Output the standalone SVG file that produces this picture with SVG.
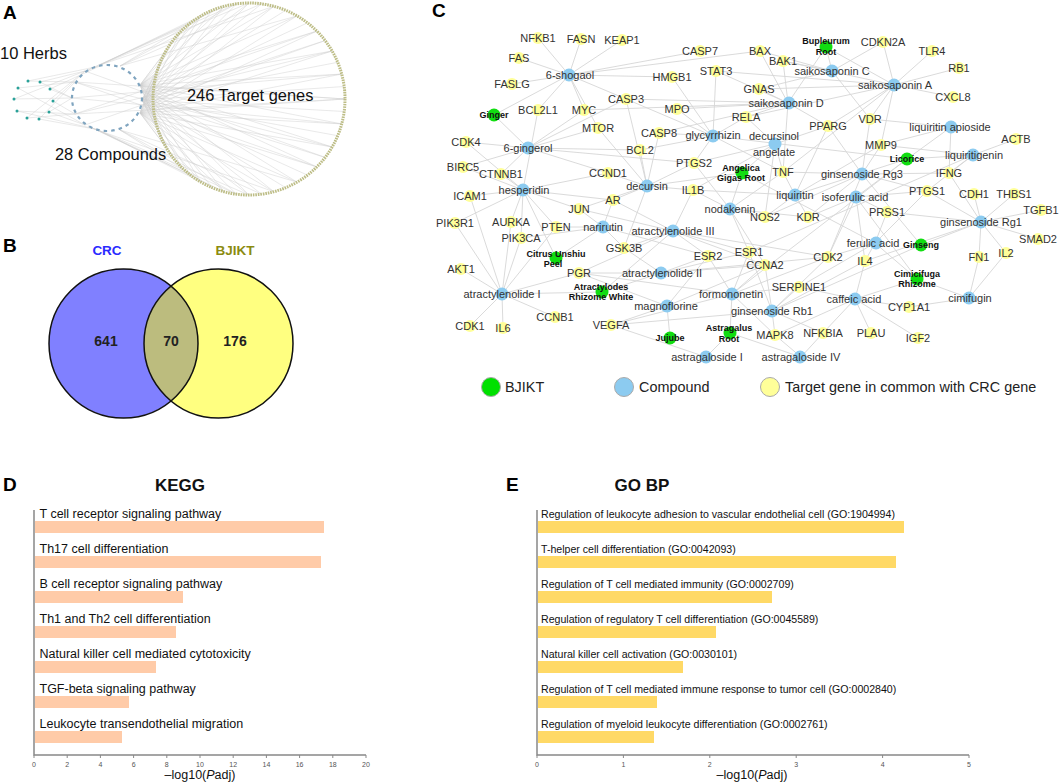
<svg xmlns="http://www.w3.org/2000/svg" width="1059" height="782" viewBox="0 0 1059 782">
<style>
text{font-family:"Liberation Sans",Arial,sans-serif;fill:#333}
.lbl{font-weight:bold;fill:#000;font-size:19px}
.net text{font-size:11px;text-anchor:middle}
.gene circle{fill:#ffff99}
.cmp circle{fill:#8ccbf0}
.herb circle{fill:#11dd11}
.herb text{font-size:9px;font-weight:bold;fill:#111}
.edges path{fill:none;stroke:#d6d6d6;stroke-width:0.9}
.aedge{fill:none;stroke:#cdcdcd;stroke-width:0.45}
.leg text{font-size:14.4px;fill:#222}
.leg circle{stroke:#aaa;stroke-width:1}
.barD{fill:#ffcba8}
.barE{fill:#ffd966}
.axis{stroke:#888;stroke-width:1.5;fill:none}
.tick{stroke:#888;stroke-width:1}
.tl{font-size:7px;fill:#555;text-anchor:middle}
.dl{font-size:12.5px;fill:#111}
.el{font-size:10.6px;fill:#111}
.ttl{font-size:17px;font-weight:bold;fill:#111;text-anchor:middle}
.xt{font-size:12.5px;fill:#111;text-anchor:middle}
.big{fill:#111}
.crc{fill:#2a2aff;font-size:13.5px;font-weight:bold;text-anchor:middle}
.bj{fill:#8b8b10;font-size:13.5px;font-weight:bold;text-anchor:middle}
.num{fill:#222;font-size:14px;font-weight:bold;text-anchor:middle}
</style>

<!-- Panel A -->
<g id="panelA">
<text class="lbl" x="3" y="19">A</text>
<g id="a-edges">
<path class="aedge" d="M140 85L345 99M140 85L341.7 123.9M140 85L332.1 147M140 85L316.9 166.9M140 85L297 182.1M140 85L273.9 191.7M140 85L249 195M140 85L224.1 191.7M140 85L201 182.1M140 85L181.1 166.9M140 85L165.9 147M140 85L156.3 123.9M140 85L153 99M140 85L156.3 74.1M140 85L165.9 51M140 85L181.1 31.1M140 85L201 15.9M140 85L224.1 6.3M140 85L249 3M140 85L273.9 6.3M140 85L297 15.9M140 85L316.9 31.1M140 85L332.1 51M140 85L341.7 74.1"/>
<path class="aedge" d="M142 100L344.2 111.5M142 100L337.7 135.7M142 100L325.1 157.4M142 100L307.4 175.1M142 100L285.7 187.7M142 100L261.5 194.2M142 100L236.5 194.2M142 100L212.3 187.7M142 100L190.6 175.1M142 100L172.9 157.4M142 100L160.3 135.7M142 100L153.8 111.5M142 100L153.8 86.5M142 100L160.3 62.3M142 100L172.9 40.6M142 100L190.6 22.9M142 100L212.3 10.3M142 100L236.5 3.8M142 100L261.5 3.8M142 100L285.7 10.3M142 100L307.4 22.9M142 100L325.1 40.6M142 100L337.7 62.3M142 100L344.2 86.5"/>
<path class="aedge" d="M140 113L345 99M140 113L341.7 123.9M140 113L332.1 147M140 113L316.9 166.9M140 113L297 182.1M140 113L273.9 191.7M140 113L249 195M140 113L224.1 191.7M140 113L201 182.1M140 113L181.1 166.9M140 113L165.9 147M140 113L156.3 123.9M140 113L156.3 74.1M140 113L165.9 51M140 113L181.1 31.1M140 113L201 15.9M140 113L224.1 6.3M140 113L249 3M140 113L273.9 6.3M140 113L297 15.9M140 113L316.9 31.1M140 113L332.1 51M140 113L341.7 74.1"/>
<path class="aedge" d="M100 65L201 15.9M100 65L224.1 6.3M100 65L249 3M100 65L273.9 6.3M120 66L212.3 10.3M120 66L236.5 3.8M120 66L261.5 3.8M120 66L297 15.9M88 70L190.6 22.9M88 70L236.5 3.8M100 131L201 182.1M100 131L224.1 191.7M100 131L249 195M100 131L273.9 191.7M120 130L212.3 187.7M120 130L236.5 194.2M120 130L261.5 194.2M120 130L297 182.1M88 126L190.6 175.1M88 126L236.5 194.2"/>
<path class="aedge" d="M75 82L345 99M75 82L316.9 166.9M75 82L332.1 147M75 114L345 99M75 114L316.9 31.1M75 114L332.1 51M72 98L341.7 74.1M72 98L341.7 123.9M85 71L325.1 157.4M85 125L325.1 40.6"/>
<path class="aedge" d="M28 81L75 82M28 81L100 66M40 82L85 71M40 82L72 98M18 88L75 82M18 88L85 125M50 89L72 98M50 89L100 66M14 99L72 98M14 99L85 71M53 101L75 114M53 101L85 71M17 111L75 114M17 111L100 130M49 112L72 98M49 112L85 125M27 118L75 114M27 118L85 71M39 119L100 130M39 119L75 82"/>
</g>
<circle id="a-targets" cx="249" cy="99" r="96" fill="none" stroke="#bdbd86" stroke-width="3" stroke-dasharray="1.6 0.9"/>
<ellipse id="a-compounds" cx="107" cy="98" rx="35" ry="33" fill="none" stroke="#7fa4bf" stroke-width="2.2" stroke-dasharray="3.5 4.1"/>
<g id="a-herbs" fill="#2aa198">
<circle cx="28" cy="81" r="1.5"/><circle cx="40" cy="82" r="1.5"/><circle cx="18" cy="88" r="1.5"/><circle cx="50" cy="89" r="1.5"/><circle cx="14" cy="99" r="1.5"/><circle cx="53" cy="101" r="1.5"/><circle cx="17" cy="111" r="1.5"/><circle cx="49" cy="112" r="1.5"/><circle cx="27" cy="118" r="1.5"/><circle cx="39" cy="119" r="1.5"/>
</g>
<text class="big" x="0" y="59" font-size="16.5">10 Herbs</text>
<text class="big" x="187" y="101" font-size="16.4">246 Target genes</text>
<text class="big" x="55" y="160" font-size="16.4">28 Compounds</text>
</g>

<!-- Panel B -->
<g id="panelB">
<text class="lbl" x="3" y="252">B</text>
<text class="crc" x="107" y="255">CRC</text>
<text class="bj" x="235" y="255">BJIKT</text>
<circle cx="123.5" cy="343.5" r="74.5" fill="#8080ff"/>
<circle cx="218.5" cy="343.5" r="74.5" fill="#ffff80"/>
<path d="M171 286.1A74.5 74.5 0 0 1 171 400.9A74.5 74.5 0 0 1 171 286.1Z" fill="#bcbc7e"/>
<circle cx="123.5" cy="343.5" r="74.5" fill="none" stroke="#111" stroke-width="1.5"/>
<circle cx="218.5" cy="343.5" r="74.5" fill="none" stroke="#111" stroke-width="1.5"/>
<text class="num" x="106" y="346">641</text>
<text class="num" x="171" y="346">70</text>
<text class="num" x="235" y="346">176</text>
</g>

<!-- Panel C -->
<g id="panelC" class="net">
<text class="lbl" x="432" y="17" style="font-size:19px;text-anchor:start">C</text>
<g id="connectors" class="edges">
<path d="M494 115L569 75M494 115L528 148M826 47L832 71M826 47L894 85M826 47L788 103M907 159L713 136M907 159L951 127M907 159L973 155M907 159L795 195M907 159L856 197M907 159L732 294M742 173L775 144M742 173L647 186M742 173L730 209M742 173L875 243M556 258L523 190M556 258L603 227M602 292L502 294M602 292L661 273M602 292L673 231M921 245L862 174M921 245L981 222M921 245L772 311M917 279L855 299M917 279L969 298M917 279L875 243M917 279L856 197M670 338L667 306M730 333L732 294M730 333L706 357M730 333L801 357"/>
<path d="M569 75L538 38M569 75L581 39M569 75L622 40M569 75L519 58M569 75L512 84M569 75L538 110M569 75L626 99M569 75L700 51M569 75L760 51M569 75L598 128M569 75L584 110M569 75L672 77"/>
<path d="M528 148L466 142M528 148L463 167M528 148L501 174M528 148L584 110M528 148L626 99M528 148L640 150M528 148L608 173M528 148L694 163M528 148L598 128"/>
<path d="M523 190L466 142M523 190L463 167M523 190L501 174M523 190L470 196M523 190L455 223M523 190L511 222M523 190L521 238M523 190L556 227M523 190L579 209M523 190L613 200M523 190L608 173M523 190L538 110"/>
<path d="M603 227L556 227M603 227L579 209M603 227L613 200M603 227L624 248M603 227L708 256M603 227L521 238"/>
<path d="M647 186L608 173M647 186L613 200M647 186L640 150M647 186L659 133M647 186L694 163M647 186L693 190M647 186L579 209M647 186L624 248M647 186L626 99M647 186L598 128"/>
<path d="M713 136L672 77M713 136L716 71M713 136L677 109M713 136L659 133M713 136L746 117M713 136L640 150M713 136L783 172M713 136L694 163M713 136L626 99"/>
<path d="M788 103L760 51M788 103L783 61M788 103L759 89M788 103L716 71M788 103L746 117M788 103L626 99M788 103L659 133M788 103L677 109M788 103L783 172M788 103L828 126M788 103L584 110"/>
<path d="M832 71L760 51M832 71L883 42M832 71L870 119M832 71L759 89M832 71L783 61"/>
<path d="M894 85L883 42M894 85L932 51M894 85L959 68M894 85L953 97M894 85L870 119M894 85L828 126M894 85L783 61M894 85L746 117M894 85L783 172M894 85L881 145M894 85L716 71M894 85L759 89"/>
<path d="M775 144L694 163M775 144L783 172M775 144L765 217M775 144L693 190M775 144L828 126M775 144L746 117"/>
<path d="M730 209L693 190M730 209L765 217M730 209L783 172M730 209L808 217M730 209L749 252M730 209L765 265M730 209L694 163"/>
<path d="M795 195L783 172M795 195L765 217M795 195L808 217M795 195L828 126M795 195L881 145M795 195L693 190"/>
<path d="M951 127L870 119M951 127L881 145M951 127L949 173"/>
<path d="M973 155L1016 139M973 155L949 173M973 155L881 145M973 155L927 191M973 155L749 252"/>
<path d="M862 174L881 145M862 174L870 119M862 174L828 126M862 174L808 217M862 174L765 217M862 174L828 257M862 174L927 191M862 174L949 173M862 174L783 172"/>
<path d="M856 197L927 191M856 197L887 212M856 197L808 217M856 197L828 257M856 197L865 261"/>
<path d="M875 243L887 212M875 243L865 261M875 243L828 257M875 243L927 191M875 243L799 287"/>
<path d="M981 222L949 173M981 222L927 191M981 222L974 194M981 222L1014 194M981 222L1041 210M981 222L1038 239M981 222L1006 253M981 222L979 257M981 222L887 212M981 222L865 261"/>
<path d="M673 231L613 200M673 231L579 209M673 231L624 248M673 231L708 256M673 231L749 252M673 231L579 273M673 231L693 190M673 231L765 265M673 231L828 257"/>
<path d="M502 294L461 269M502 294L470 326M502 294L503 328M502 294L555 317M502 294L455 223M502 294L521 238M502 294L511 222M502 294L579 273M502 294L556 227M502 294L470 196"/>
<path d="M661 273L579 273M661 273L749 252M661 273L708 256M661 273L765 265M661 273L624 248M661 273L828 257"/>
<path d="M732 294L749 252M732 294L708 256M732 294L765 265M732 294L799 287M732 294L828 257M732 294L775 335M732 294L579 273M732 294L611 325"/>
<path d="M667 306L579 273M667 306L611 325M667 306L708 256M667 306L765 265"/>
<path d="M772 311L611 325M772 311L799 287M772 311L775 335M772 311L823 333M772 311L828 257M772 311L865 261M772 311L765 265M772 311L749 252"/>
<path d="M855 299L909 307M855 299L871 333M855 299L918 338M855 299L823 333M855 299L865 261M855 299L775 335M855 299L799 287"/>
<path d="M969 298L909 307M969 298L979 257M969 298L1006 253"/>
<path d="M801 357L775 335M801 357L823 333M706 357L611 325"/>
</g>

<g id="genes">
<g id="n-NFKB1" class="gene"><circle cx="538" cy="38" r="6"/><text x="538" y="42">NFKB1</text></g>
<g id="n-FASN" class="gene"><circle cx="581" cy="39" r="6"/><text x="581" y="43">FASN</text></g>
<g id="n-KEAP1" class="gene"><circle cx="622" cy="40" r="6"/><text x="622" y="44">KEAP1</text></g>
<g id="n-CASP7" class="gene"><circle cx="700" cy="51" r="6"/><text x="700" y="55">CASP7</text></g>
<g id="n-BAX" class="gene"><circle cx="760" cy="51" r="6"/><text x="760" y="55">BAX</text></g>
<g id="n-BAK1" class="gene"><circle cx="783" cy="61" r="6"/><text x="783" y="65">BAK1</text></g>
<g id="n-CDKN2A" class="gene"><circle cx="883" cy="42" r="6"/><text x="883" y="46">CDKN2A</text></g>
<g id="n-TLR4" class="gene"><circle cx="932" cy="51" r="6"/><text x="932" y="55">TLR4</text></g>
<g id="n-FAS" class="gene"><circle cx="519" cy="58" r="6"/><text x="519" y="62">FAS</text></g>
<g id="n-HMGB1" class="gene"><circle cx="672" cy="77" r="6"/><text x="672" y="81">HMGB1</text></g>
<g id="n-STAT3" class="gene"><circle cx="716" cy="71" r="6"/><text x="716" y="75">STAT3</text></g>
<g id="n-RB1" class="gene"><circle cx="959" cy="68" r="6"/><text x="959" y="72">RB1</text></g>
<g id="n-FASLG" class="gene"><circle cx="512" cy="84" r="6"/><text x="512" y="88">FASLG</text></g>
<g id="n-GNAS" class="gene"><circle cx="759" cy="89" r="6"/><text x="759" y="93">GNAS</text></g>
<g id="n-CXCL8" class="gene"><circle cx="953" cy="97" r="6"/><text x="953" y="101">CXCL8</text></g>
<g id="n-BCL2L1" class="gene"><circle cx="538" cy="110" r="6"/><text x="538" y="114">BCL2L1</text></g>
<g id="n-MYC" class="gene"><circle cx="584" cy="110" r="6"/><text x="584" y="114">MYC</text></g>
<g id="n-CASP3" class="gene"><circle cx="626" cy="99" r="6"/><text x="626" y="103">CASP3</text></g>
<g id="n-MPO" class="gene"><circle cx="677" cy="109" r="6"/><text x="677" y="113">MPO</text></g>
<g id="n-RELA" class="gene"><circle cx="746" cy="117" r="6"/><text x="746" y="121">RELA</text></g>
<g id="n-MTOR" class="gene"><circle cx="598" cy="128" r="6"/><text x="598" y="132">MTOR</text></g>
<g id="n-VDR" class="gene"><circle cx="870" cy="119" r="6"/><text x="870" y="123">VDR</text></g>
<g id="n-PPARG" class="gene"><circle cx="828" cy="126" r="6"/><text x="828" y="130">PPARG</text></g>
<g id="n-CASP8" class="gene"><circle cx="659" cy="133" r="6"/><text x="659" y="137">CASP8</text></g>
<g id="n-ACTB" class="gene"><circle cx="1016" cy="139" r="6"/><text x="1016" y="143">ACTB</text></g>
<g id="n-CDK4" class="gene"><circle cx="466" cy="142" r="6"/><text x="466" y="146">CDK4</text></g>
<g id="n-BCL2" class="gene"><circle cx="640" cy="150" r="6"/><text x="640" y="154">BCL2</text></g>
<g id="n-MMP9" class="gene"><circle cx="881" cy="145" r="6"/><text x="881" y="149">MMP9</text></g>
<g id="n-BIRC5" class="gene"><circle cx="463" cy="167" r="6"/><text x="463" y="171">BIRC5</text></g>
<g id="n-CTNNB1" class="gene"><circle cx="501" cy="174" r="6"/><text x="501" y="178">CTNNB1</text></g>
<g id="n-PTGS2" class="gene"><circle cx="694" cy="163" r="6"/><text x="694" y="167">PTGS2</text></g>
<g id="n-TNF" class="gene"><circle cx="783" cy="172" r="6"/><text x="783" y="176">TNF</text></g>
<g id="n-CCND1" class="gene"><circle cx="608" cy="173" r="6"/><text x="608" y="177">CCND1</text></g>
<g id="n-IFNG" class="gene"><circle cx="949" cy="173" r="6"/><text x="949" y="177">IFNG</text></g>
<g id="n-ICAM1" class="gene"><circle cx="470" cy="196" r="6"/><text x="470" y="200">ICAM1</text></g>
<g id="n-IL1B" class="gene"><circle cx="693" cy="190" r="6"/><text x="693" y="194">IL1B</text></g>
<g id="n-PTGS1" class="gene"><circle cx="927" cy="191" r="6"/><text x="927" y="195">PTGS1</text></g>
<g id="n-CDH1" class="gene"><circle cx="974" cy="194" r="6"/><text x="974" y="198">CDH1</text></g>
<g id="n-THBS1" class="gene"><circle cx="1014" cy="194" r="6"/><text x="1014" y="198">THBS1</text></g>
<g id="n-AR" class="gene"><circle cx="613" cy="200" r="6"/><text x="613" y="204">AR</text></g>
<g id="n-JUN" class="gene"><circle cx="579" cy="209" r="6"/><text x="579" y="213">JUN</text></g>
<g id="n-TGFB1" class="gene"><circle cx="1041" cy="210" r="6"/><text x="1041" y="214">TGFB1</text></g>
<g id="n-NOS2" class="gene"><circle cx="765" cy="217" r="6"/><text x="765" y="221">NOS2</text></g>
<g id="n-KDR" class="gene"><circle cx="808" cy="217" r="6"/><text x="808" y="221">KDR</text></g>
<g id="n-PRSS1" class="gene"><circle cx="887" cy="212" r="6"/><text x="887" y="216">PRSS1</text></g>
<g id="n-PIK3R1" class="gene"><circle cx="455" cy="223" r="6"/><text x="455" y="227">PIK3R1</text></g>
<g id="n-AURKA" class="gene"><circle cx="511" cy="222" r="6"/><text x="511" y="226">AURKA</text></g>
<g id="n-PTEN" class="gene"><circle cx="556" cy="227" r="6"/><text x="556" y="231">PTEN</text></g>
<g id="n-PIK3CA" class="gene"><circle cx="521" cy="238" r="6"/><text x="521" y="242">PIK3CA</text></g>
<g id="n-SMAD2" class="gene"><circle cx="1038" cy="239" r="6"/><text x="1038" y="243">SMAD2</text></g>
<g id="n-GSK3B" class="gene"><circle cx="624" cy="248" r="6"/><text x="624" y="252">GSK3B</text></g>
<g id="n-ESR2" class="gene"><circle cx="708" cy="256" r="6"/><text x="708" y="260">ESR2</text></g>
<g id="n-ESR1" class="gene"><circle cx="749" cy="252" r="6"/><text x="749" y="256">ESR1</text></g>
<g id="n-CDK2" class="gene"><circle cx="828" cy="257" r="6"/><text x="828" y="261">CDK2</text></g>
<g id="n-IL2" class="gene"><circle cx="1006" cy="253" r="6"/><text x="1006" y="257">IL2</text></g>
<g id="n-FN1" class="gene"><circle cx="979" cy="257" r="6"/><text x="979" y="261">FN1</text></g>
<g id="n-IL4" class="gene"><circle cx="865" cy="261" r="6"/><text x="865" y="265">IL4</text></g>
<g id="n-CCNA2" class="gene"><circle cx="765" cy="265" r="6"/><text x="765" y="269">CCNA2</text></g>
<g id="n-AKT1" class="gene"><circle cx="461" cy="269" r="6"/><text x="461" y="273">AKT1</text></g>
<g id="n-PGR" class="gene"><circle cx="579" cy="273" r="6"/><text x="579" y="277">PGR</text></g>
<g id="n-SERPINE1" class="gene"><circle cx="799" cy="287" r="6"/><text x="799" y="291">SERPINE1</text></g>
<g id="n-CYP1A1" class="gene"><circle cx="909" cy="307" r="6"/><text x="909" y="311">CYP1A1</text></g>
<g id="n-CCNB1" class="gene"><circle cx="555" cy="317" r="6"/><text x="555" y="321">CCNB1</text></g>
<g id="n-VEGFA" class="gene"><circle cx="611" cy="325" r="6"/><text x="611" y="329">VEGFA</text></g>
<g id="n-CDK1" class="gene"><circle cx="470" cy="326" r="6"/><text x="470" y="330">CDK1</text></g>
<g id="n-IL6" class="gene"><circle cx="503" cy="328" r="6"/><text x="503" y="332">IL6</text></g>
<g id="n-MAPK8" class="gene"><circle cx="775" cy="335" r="6"/><text x="775" y="339">MAPK8</text></g>
<g id="n-NFKBIA" class="gene"><circle cx="823" cy="333" r="6"/><text x="823" y="337">NFKBIA</text></g>
<g id="n-PLAU" class="gene"><circle cx="871" cy="333" r="6"/><text x="871" y="337">PLAU</text></g>
<g id="n-IGF2" class="gene"><circle cx="918" cy="338" r="6"/><text x="918" y="342">IGF2</text></g>
</g>

<g id="compounds">
<g id="n-6-shogaol" class="cmp"><circle cx="569" cy="75" r="6.5"/><text x="570" y="79">6-shogaol</text></g>
<g id="n-saikosaponinC" class="cmp"><circle cx="832" cy="71" r="6.5"/><text x="832" y="75">saikosaponin C</text></g>
<g id="n-saikosaponinA" class="cmp"><circle cx="894" cy="85" r="6.5"/><text x="895" y="89">saikosaponin A</text></g>
<g id="n-saikosaponinD" class="cmp"><circle cx="789" cy="103" r="6.5"/><text x="786" y="107">saikosaponin D</text></g>
<g id="n-glycyrrhizin" class="cmp"><circle cx="713" cy="136" r="6.5"/><text x="713" y="139">glycyrrhizin</text></g>
<g id="n-decursinolangelate" class="cmp"><circle cx="775" cy="144" r="6.5"/><text x="774" y="140">decursinol<tspan x="774" y="156">angelate</tspan></text></g>
<g id="n-liquiritinapioside" class="cmp"><circle cx="951" cy="127" r="6.5"/><text x="950" y="131">liquiritin apioside</text></g>
<g id="n-6-gingerol" class="cmp"><circle cx="528" cy="148" r="6.5"/><text x="528" y="152">6-gingerol</text></g>
<g id="n-hesperidin" class="cmp"><circle cx="523" cy="190" r="6.5"/><text x="524" y="194">hesperidin</text></g>
<g id="n-decursin" class="cmp"><circle cx="647" cy="186" r="6.5"/><text x="647" y="190">decursin</text></g>
<g id="n-liquiritin" class="cmp"><circle cx="795" cy="195" r="6.5"/><text x="795" y="199">liquiritin</text></g>
<g id="n-ginsenosideRg3" class="cmp"><circle cx="862" cy="174" r="6.5"/><text x="862" y="178">ginsenoside Rg3</text></g>
<g id="n-isoferulicacid" class="cmp"><circle cx="856" cy="197" r="6.5"/><text x="855" y="201">isoferulic acid</text></g>
<g id="n-liquiritigenin" class="cmp"><circle cx="973" cy="155" r="6.5"/><text x="974" y="159">liquiritigenin</text></g>
<g id="n-nodakenin" class="cmp"><circle cx="730" cy="209" r="6.5"/><text x="730" y="213">nodakenin</text></g>
<g id="n-narirutin" class="cmp"><circle cx="603" cy="227" r="6.5"/><text x="603" y="231">narirutin</text></g>
<g id="n-atractylenolideIII" class="cmp"><circle cx="673" cy="231" r="6.5"/><text x="673" y="235">atractylenolide III</text></g>
<g id="n-ginsenosideRg1" class="cmp"><circle cx="981" cy="222" r="6.5"/><text x="981" y="226">ginsenoside Rg1</text></g>
<g id="n-ferulicacid" class="cmp"><circle cx="876" cy="243" r="6.5"/><text x="873" y="247">ferulic acid</text></g>
<g id="n-atractylenolideI" class="cmp"><circle cx="502" cy="294" r="6.5"/><text x="502" y="298">atractylenolide I</text></g>
<g id="n-atractylenolideII" class="cmp"><circle cx="661" cy="273" r="6.5"/><text x="662" y="277">atractylenolide II</text></g>
<g id="n-formononetin" class="cmp"><circle cx="732" cy="294" r="6.5"/><text x="731" y="298">formononetin</text></g>
<g id="n-magnoflorine" class="cmp"><circle cx="667" cy="306" r="6.5"/><text x="666" y="310">magnoflorine</text></g>
<g id="n-ginsenosideRb1" class="cmp"><circle cx="772" cy="311" r="6.5"/><text x="772" y="315">ginsenoside Rb1</text></g>
<g id="n-caffeicacid" class="cmp"><circle cx="855" cy="299" r="6.5"/><text x="854" y="303">caffeic acid</text></g>
<g id="n-cimifugin" class="cmp"><circle cx="969" cy="298" r="6.5"/><text x="970" y="302">cimifugin</text></g>
<g id="n-astragalosideI" class="cmp"><circle cx="706" cy="357" r="6.5"/><text x="707" y="361">astragaloside I</text></g>
<g id="n-astragalosideIV" class="cmp"><circle cx="800" cy="357" r="6.5"/><text x="801" y="361">astragaloside IV</text></g>
</g>

<g id="herbs">
<g id="n-Ginger" class="herb"><circle cx="494" cy="115" r="6.5"/><text x="494" y="118">Ginger</text></g>
<g id="n-BupleurumRoot" class="herb"><circle cx="826" cy="47" r="6.5"/><text x="826" y="44">Bupleurum<tspan x="826" y="55">Root</tspan></text></g>
<g id="n-Licorice" class="herb"><circle cx="907" cy="159" r="6.5"/><text x="907" y="162">Licorice</text></g>
<g id="n-AngelicaGigasRoot" class="herb"><circle cx="742" cy="173" r="6.5"/><text x="741" y="171">Angelica<tspan x="741" y="181">Gigas Root</tspan></text></g>
<g id="n-CitrusUnshiuPeel" class="herb"><circle cx="556" cy="258" r="6.5"/><text x="556" y="257">Citrus Unshiu<tspan x="553" y="267">Peel</tspan></text></g>
<g id="n-AtractylodesRhizomeWhite" class="herb"><circle cx="602" cy="292" r="6.5"/><text x="601" y="290">Atractylodes<tspan x="601" y="300">Rhizome White</tspan></text></g>
<g id="n-Ginseng" class="herb"><circle cx="921" cy="245" r="6.5"/><text x="921" y="248">Ginseng</text></g>
<g id="n-CimicifugaRhizome" class="herb"><circle cx="917" cy="279" r="6.5"/><text x="917" y="277">Cimicifuga<tspan x="917" y="287">Rhizome</tspan></text></g>
<g id="n-Jujube" class="herb"><circle cx="670" cy="338" r="6.5"/><text x="670" y="341">Jujube</text></g>
<g id="n-AstragalusRoot" class="herb"><circle cx="730" cy="333" r="6.5"/><text x="729" y="331">Astragalus<tspan x="729" y="342">Root</tspan></text></g>
</g>

<g id="legend" class="leg">
<circle cx="491" cy="387" r="9.5" fill="#00e000"/><text x="505" y="392" style="text-anchor:start">BJIKT</text>
<circle cx="624" cy="387" r="9.5" fill="#8ccbf0"/><text x="639" y="392" style="text-anchor:start">Compound</text>
<circle cx="770" cy="387" r="9.5" fill="#ffff99"/><text x="785" y="392" style="text-anchor:start">Target gene in common with CRC gene</text>
</g>
</g>

<!-- Panel D -->
<g id="panelD">
<text class="lbl" x="3" y="491">D</text>
<text class="ttl" x="180" y="491">KEGG</text>
<g id="d-bars">
<rect class="barD" x="35" y="521" width="289" height="12"/>
<rect class="barD" x="35" y="556" width="286" height="12"/>
<rect class="barD" x="35" y="591" width="148" height="12"/>
<rect class="barD" x="35" y="626" width="141" height="12"/>
<rect class="barD" x="35" y="661" width="121" height="12"/>
<rect class="barD" x="35" y="696" width="94" height="12"/>
<rect class="barD" x="35" y="731" width="87" height="12"/>
</g>
<g id="d-labels">
<text class="dl" x="39.5" y="518">T cell receptor signaling pathway</text>
<text class="dl" x="39.5" y="553">Th17 cell differentiation</text>
<text class="dl" x="39.5" y="588">B cell receptor signaling pathway</text>
<text class="dl" x="39.5" y="623">Th1 and Th2 cell differentiation</text>
<text class="dl" x="39.5" y="658">Natural killer cell mediated cytotoxicity</text>
<text class="dl" x="39.5" y="693">TGF-beta signaling pathway</text>
<text class="dl" x="39.5" y="728">Leukocyte transendothelial migration</text>
</g>
<path class="axis" d="M34 510V755H366"/>
<path class="tick" d="M34 755v3M67.2 755v3M100.4 755v3M133.6 755v3M166.8 755v3M200 755v3M233.2 755v3M266.4 755v3M299.6 755v3M332.8 755v3M366 755v3"/>
<g>
<text class="tl" x="34" y="767">0</text><text class="tl" x="67.2" y="767">2</text><text class="tl" x="100.4" y="767">4</text><text class="tl" x="133.6" y="767">6</text><text class="tl" x="166.8" y="767">8</text><text class="tl" x="200" y="767">10</text><text class="tl" x="233.2" y="767">12</text><text class="tl" x="266.4" y="767">14</text><text class="tl" x="299.6" y="767">16</text><text class="tl" x="332.8" y="767">18</text><text class="tl" x="366" y="767">20</text>
</g>
<text class="xt" x="200" y="779">–log10(<tspan font-style="italic">P</tspan>adj)</text>
</g>

<!-- Panel E -->
<g id="panelE">
<text class="lbl" x="506" y="491">E</text>
<text class="ttl" x="642" y="491">GO BP</text>
<g id="e-bars">
<rect class="barE" x="538" y="521" width="366" height="12"/>
<rect class="barE" x="538" y="556" width="358" height="12"/>
<rect class="barE" x="538" y="591" width="234" height="12"/>
<rect class="barE" x="538" y="626" width="178" height="12"/>
<rect class="barE" x="538" y="661" width="145" height="12"/>
<rect class="barE" x="538" y="696" width="119" height="12"/>
<rect class="barE" x="538" y="731" width="116" height="12"/>
</g>
<g id="e-labels">
<text class="el" x="541" y="518">Regulation of leukocyte adhesion to vascular endothelial cell (GO:1904994)</text>
<text class="el" x="541" y="553">T-helper cell differentiation (GO:0042093)</text>
<text class="el" x="541" y="588">Regulation of T cell mediated immunity (GO:0002709)</text>
<text class="el" x="541" y="623">Regulation of regulatory T cell differentiation (GO:0045589)</text>
<text class="el" x="541" y="658">Natural killer cell activation (GO:0030101)</text>
<text class="el" x="541" y="693">Regulation of T cell mediated immune response to tumor cell (GO:0002840)</text>
<text class="el" x="541" y="728">Regulation of myeloid leukocyte differentiation (GO:0002761)</text>
</g>
<path class="axis" d="M537 510V755H969"/>
<path class="tick" d="M537 755v3M623.4 755v3M709.8 755v3M796.2 755v3M882.6 755v3M969 755v3"/>
<g>
<text class="tl" x="537" y="767">0</text><text class="tl" x="623.4" y="767">1</text><text class="tl" x="709.8" y="767">2</text><text class="tl" x="796.2" y="767">3</text><text class="tl" x="882.6" y="767">4</text><text class="tl" x="969" y="767">5</text>
</g>
<text class="xt" x="752" y="779">–log10(<tspan font-style="italic">P</tspan>adj)</text>
</g>
</svg>
